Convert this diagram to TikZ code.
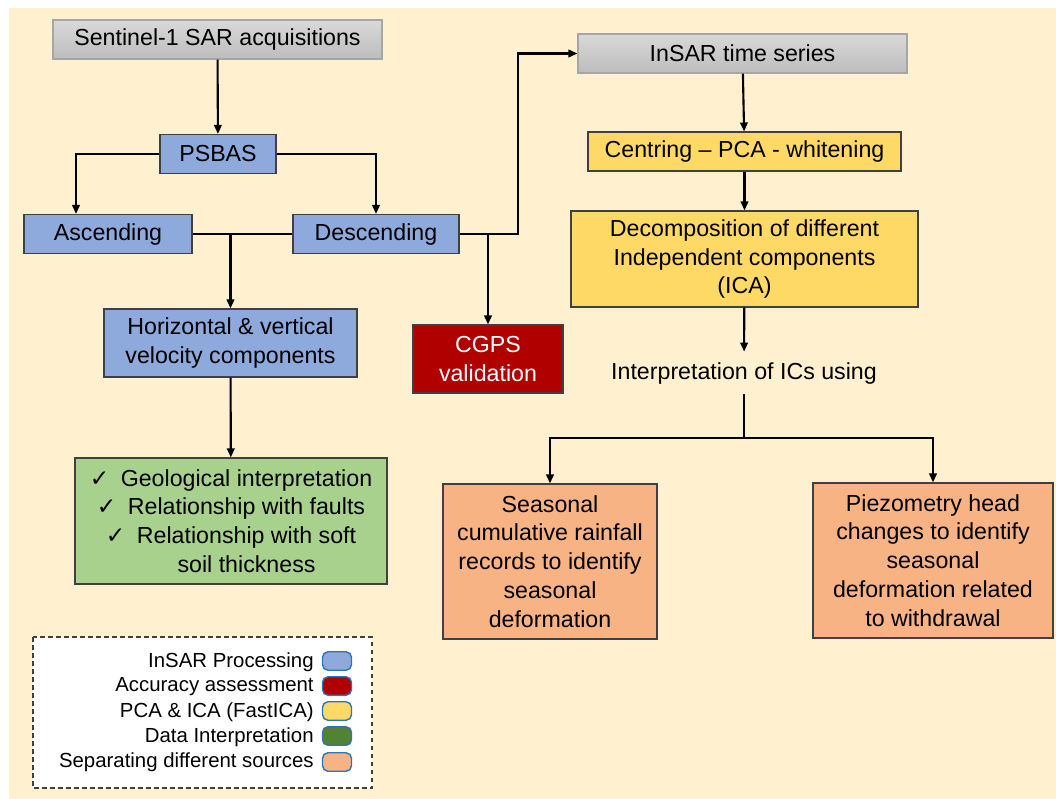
\documentclass[tikz,border=0pt]{standalone}
\usepackage{fontspec}
\setmainfont{Liberation Sans}
\newfontfamily\symfont{DejaVu Sans}
\usetikzlibrary{arrows.meta, positioning, calc}

\definecolor{cream}{HTML}{FFF0CF}
\definecolor{procblue}{HTML}{8EA9DB}
\definecolor{accred}{HTML}{B00000}
\definecolor{icayellow}{HTML}{FFD966}
\definecolor{interpgreen}{HTML}{A9D18E}
\definecolor{legendgreen}{HTML}{548235}
\definecolor{srcorange}{HTML}{F8B384}
\definecolor{edgegray}{HTML}{404040}
\definecolor{swatchedge}{HTML}{2E75B6}

\newcommand{\ck}{{\symfont\char"2713}}

\tikzset{
  box/.style={draw=edgegray, line width=0.6pt, align=center, inner sep=0pt,
    font=\fontsize{13.2}{16.4}\selectfont},
  greybox/.style={box, draw=black!35, top color=black!15, bottom color=black!26},
  procbox/.style={box, fill=procblue},
  icabox/.style={box, fill=icayellow},
  srcbox/.style={box, fill=srcorange},
  arr/.style={line width=1.2pt, -{Triangle[length=1.8mm,width=1.5mm]}},
  link/.style={line width=1.2pt},
  legtext/.style={anchor=east, inner sep=0pt, font=\fontsize{11.6}{14}\selectfont},
  swatch/.style={draw=swatchedge, line width=0.8pt, rounded corners=1.1mm,
    minimum width=5.8mm, minimum height=3.7mm, inner sep=0pt},
}

\begin{document}
\begin{tikzpicture}[x=0.2mm, y=-0.2mm]
  % Canvas
  \useasboundingbox (0,0) rectangle (1056,799);
  \fill[white] (0,0) rectangle (1056,799);
  \fill[cream] (9,8) rectangle (1056,799);

  % InSAR processing
  \node[greybox, minimum width=65.8mm, minimum height=7.8mm] (sent) at (217.5,39.5) {Sentinel-1 SAR acquisitions};
  \node[procbox, minimum width=23.2mm, minimum height=7.8mm] (psbas) at (218,154) {PSBAS};
  \node[procbox, minimum width=33.6mm, minimum height=7.8mm] (asc) at (108,234) {Ascending};
  \node[procbox, minimum width=33.2mm, minimum height=7.8mm] (desc) at (376,234) {Descending};
  \node[procbox, minimum width=50.6mm, minimum height=13.6mm] (hv) at (230.5,343) {Horizontal \& vertical\\velocity components};

  % Validation
  \node[box, fill=accred, text=white, minimum width=30mm, minimum height=13.6mm] (cgps) at (488,359) {CGPS\\validation};

  % Interpretation
  \node[box, fill=interpgreen, minimum width=62.4mm, minimum height=25.2mm] (geo) at (231,521)
    {\ck\enspace Geological interpretation\\
     \ck\enspace Relationship with faults\\
     \ck\enspace Relationship with soft\\
     \hphantom{\ck\enspace}soil thickness};

  % PCA & ICA
  \node[greybox, minimum width=65.8mm, minimum height=7.8mm] (insar) at (742.5,53.5) {InSAR time series};
  \node[icabox, minimum width=62.6mm, minimum height=7.8mm] (cent) at (744.5,151.5) {Centring -- PCA - whitening};
  \node[icabox, minimum width=69.4mm, minimum height=19.2mm] (dec) at (744.5,259) {Decomposition of different\\Independent components\\(ICA)};
  \node[inner sep=0pt, minimum height=8.4mm, font=\fontsize{13.2}{16.4}\selectfont] (icuse) at (744,373) {Interpretation of ICs using};

  % Separating sources
  \node[srcbox, minimum width=42.8mm, minimum height=31mm] (seas) at (550,561.5) {Seasonal\\cumulative rainfall\\records to identify\\seasonal\\deformation};
  \node[srcbox, minimum width=48mm, minimum height=31mm] (piezo) at (933,560.5) {Piezometry head\\changes to identify\\seasonal\\deformation related\\to withdrawal};

  % Junctions
  \coordinate (bend) at (518,234);
  \coordinate (split) at (744,438);

  % Edges
  \draw[arr] (sent) -- (psbas);
  \draw[arr] (psbas.west) -| ([xshift=-6.4mm]asc.north);
  \draw[arr] (psbas.east) -| (desc.north);
  \draw[link] (asc.east) -- (desc.west);
  \draw[arr] (hv.north |- asc.east) -- (hv.north);
  \draw[arr] (hv) -- (geo);
  \draw[arr] (desc.east) -- (bend) |- (insar.west);
  \draw[arr] (cgps.north |- desc.east) -- (cgps.north);
  \draw[arr] (insar) -- (cent);
  \draw[arr] (cent) -- (dec);
  \draw[arr] (dec) -- (icuse);
  \draw[link] (icuse) -- (split);
  \draw[arr] (split) -| (seas.north);
  \draw[arr] (split) -| (piezo.north);

  % Legend
  \draw[fill=white, draw=edgegray, line width=0.8pt, dash pattern=on 0.9mm off 0.7mm] (33,637) rectangle (372,788);
  \node[legtext] (l1) at (314,662) {InSAR Processing};
  \node[legtext] (l2) at (314,687) {Accuracy assessment};
  \node[legtext] (l3) at (314,712) {PCA \& ICA (FastICA)};
  \node[legtext] (l4) at (314,737) {Data Interpretation};
  \node[legtext] (l5) at (314,762) {Separating different sources};
  \node[swatch, fill=procblue] (s1) at (337,661) {};
  \node[swatch, fill=accred] (s2) at (337,686) {};
  \node[swatch, fill=icayellow] (s3) at (337,711) {};
  \node[swatch, fill=legendgreen] (s4) at (337,736) {};
  \node[swatch, fill=srcorange] (s5) at (337,762) {};
\end{tikzpicture}
\end{document}
